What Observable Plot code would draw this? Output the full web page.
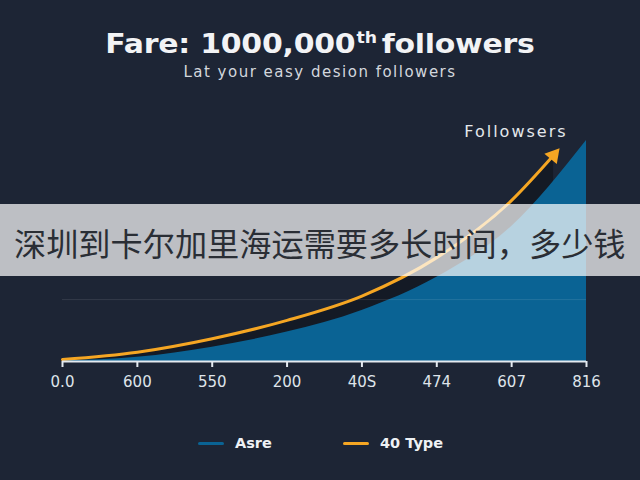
<!DOCTYPE html>
<html><head><meta charset="utf-8">
<script src="https://cdn.jsdelivr.net/npm/d3@7"></script>
<script src="https://cdn.jsdelivr.net/npm/@observablehq/plot@0.6"></script>
<style>
html,body{margin:0;padding:0;background:#1d2535;}
#wrap{position:relative;width:640px;height:480px;overflow:hidden;background:#1d2535;font-family:"DejaVu Sans",sans-serif;}
#title{position:absolute;left:0;width:640px;top:23.5px;text-align:center;color:#f2f3f5;font-weight:700;font-size:26px;line-height:40px;white-space:nowrap;transform:scaleX(1.15);transform-origin:320px 0;letter-spacing:-0.2px;}
#title sup{font-size:15px;vertical-align:10px;line-height:0;letter-spacing:0;margin-right:4px;margin-left:1px;}
#subtitle{position:absolute;left:0;width:640px;top:61.5px;text-align:center;color:#d3d7dd;font-size:15px;line-height:20px;white-space:nowrap;letter-spacing:1.5px;}
#chart{position:absolute;left:0;top:100px;}
#chart svg g[aria-label="text"] text{letter-spacing:2px;}
#legend{position:absolute;left:0;width:640px;top:433px;height:20px;color:#eef1f4;font-size:14.5px;font-weight:700;}
.sw{position:absolute;top:9px;width:26px;height:3px;border-radius:2px;}
.lt{position:absolute;top:0;line-height:20px;white-space:nowrap;}
#banner{position:absolute;left:0;top:204px;width:640px;height:72px;background:rgba(255,255,255,0.71);}
#banner span{position:absolute;left:14px;top:2px;line-height:72px;font-family:"Noto Sans CJK SC",sans-serif;font-size:32.2px;color:#2a2e35;white-space:nowrap;}
</style></head>
<body>
<div id="wrap">
  <div id="title">Fare: 1000,000<sup>th</sup>followers</div>
  <div id="subtitle">Lat your easy desion followers</div>
  <div id="chart"></div>
  <div id="legend"></div>
  <div id="banner"><span>深圳到卡尔加里海运需要多长时间，多少钱</span></div>
</div>
<script>
const labels = ["0.0","600","550","200","40S","474","607","816"];
const areaValues = [0.3, 1.9, 6.5, 13.3, 23.1, 38.1, 61.1, 100];
const lineIdx = [0, 1, 2, 3, 4, 5, 6, 6.56];
const lineValues = [0.9, 4.2, 10.3, 18.6, 29.6, 47, 72.9, 93.3];
const gridValues = [28];
const annotation = "Followsers";
const seriesNames = ["Asre", "40 Type"];
const seriesColors = ["#0a6394", "#f5a623"];

const areaData = labels.map((l, i) => ({i, v: areaValues[i]}));
const lineData = lineIdx.map((x, k) => ({i: x, v: lineValues[k]}));
const tickIdx = labels.map((_, i) => i);

const chart = Plot.plot({
  width: 640, height: 300,
  marginLeft: 62, marginRight: 54, marginTop: 40, marginBottom: 39,
  style: {background: "transparent", color: "#dfe4ea", fontSize: "15px", fontFamily: "'DejaVu Sans', sans-serif"},
  x: {type: "linear", domain: [0, labels.length - 1], axis: null},
  y: {domain: [0, 100], axis: null},
  marks: [
    Plot.areaY(lineData, {x: "i", y: "v", fill: "#141a25", curve: "monotone-x"}),
    Plot.areaY(areaData, {x: "i", y: "v", fill: seriesColors[0], curve: "monotone-x"}),
    Plot.ruleY(gridValues, {stroke: "#ffffff", strokeOpacity: 0.1, strokeWidth: 1}),
    Plot.line(lineData, {x: "i", y: "v", stroke: seriesColors[1], strokeWidth: 3, curve: "monotone-x"}),
    Plot.dot(lineData.slice(-1), {x: "i", y: "v", symbol: "triangle", fill: seriesColors[1], r: 6, rotate: 40}),
    Plot.text(lineData.slice(-1), {x: "i", y: "v", text: () => annotation, textAnchor: "end", dx: 14, dy: -23, fill: "#e4e8ec", fontSize: 16}),
    Plot.ruleY([0], {stroke: "#e4eaf0", strokeWidth: 2}),
    Plot.axisX(tickIdx, {tickFormat: i => labels[i], tickSize: 6, tickPadding: 9, stroke: "#e4eaf0", strokeWidth: 2, fill: "#dfe4ea", fontSize: 15, label: null})
  ]
});
document.getElementById("chart").appendChild(chart);

const legend = document.getElementById("legend");
const swatchX = [198, 343];
seriesNames.forEach((n, k) => {
  const s = document.createElement("div");
  s.className = "sw";
  s.style.left = swatchX[k] + "px";
  s.style.background = seriesColors[k];
  legend.appendChild(s);
  const t = document.createElement("div");
  t.className = "lt";
  t.style.left = (swatchX[k] + 37) + "px";
  t.textContent = n;
  legend.appendChild(t);
});
</script>
</body></html>
